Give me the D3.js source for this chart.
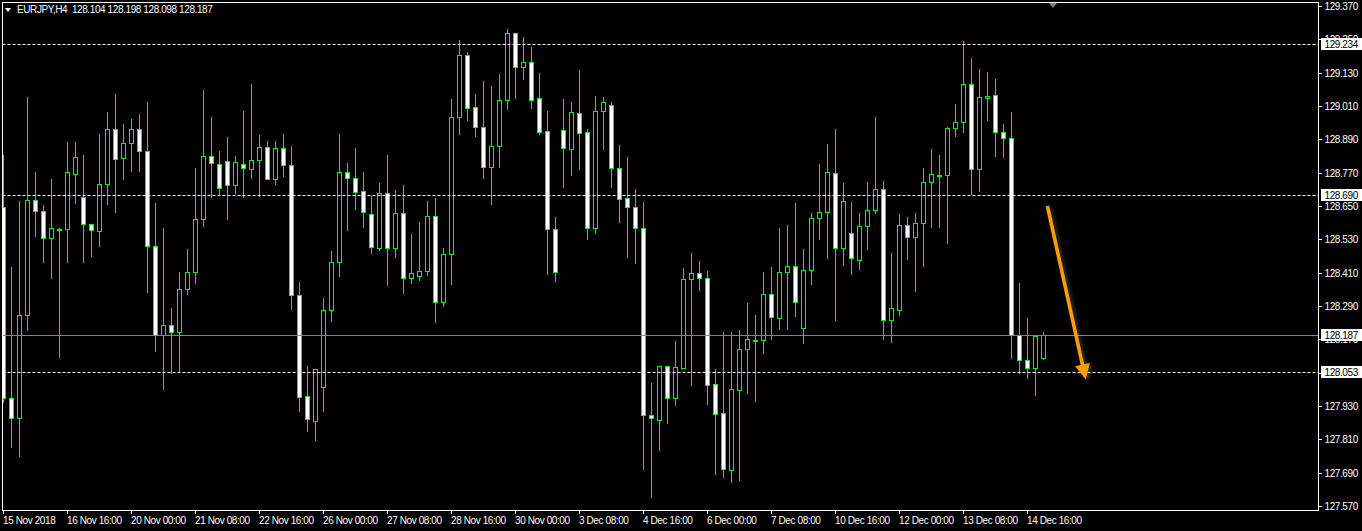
<!DOCTYPE html>
<html><head><meta charset="utf-8">
<script src="https://cdn.jsdelivr.net/npm/d3@7/dist/d3.min.js"></script>
<style>
html,body{margin:0;padding:0;background:#000;}
svg{display:block;}
text{font-family:"Liberation Sans",Arial,sans-serif;font-size:10px;letter-spacing:-0.4px;fill:#fff;}
</style></head>
<body>
<svg id="c" width="1362" height="531"></svg>
<script>
// ---- data (EURJPY, H4) ----
const symbolTitle = "EURJPY,H4";
const open = [
128.648,127.958,127.888,128.256,128.670,128.633,128.536,128.568,128.566,128.766,
128.681,128.584,128.559,128.728,128.926,128.822,128.876,128.926,128.847,128.505,
128.186,128.220,128.195,128.350,128.411,128.602,128.829,128.800,128.811,128.724,
128.803,128.782,128.814,128.861,128.746,128.858,128.796,128.328,127.965,127.877,
127.997,128.274,128.447,128.771,128.750,128.703,128.620,128.500,128.696,128.500,
128.624,128.390,128.399,128.415,128.613,128.303,128.476,128.969,129.192,129.005,
128.933,128.792,128.865,129.030,129.272,129.152,129.167,129.038,128.919,128.566,
128.922,128.856,128.984,128.916,128.570,128.991,129.012,128.786,128.678,128.645,
128.570,127.896,127.878,128.073,127.958,128.068,128.386,128.408,128.390,128.008,
127.904,127.701,127.989,128.134,128.169,128.166,128.332,128.246,128.411,128.433,
128.210,128.418,128.606,128.627,128.768,128.498,128.552,128.457,128.577,128.634,
128.710,128.241,128.277,128.580,128.537,128.588,128.735,128.763,128.763,128.930,
128.951,129.088,128.782,129.038,129.048,128.915,128.894,128.184,128.094,128.068,
128.104];
const high = [
128.834,128.429,128.668,129.042,128.772,128.654,128.747,128.570,128.880,128.880,
128.834,128.584,128.909,128.988,129.053,128.945,128.963,128.981,129.024,128.661,
128.571,128.283,128.412,128.495,128.786,129.068,128.970,128.848,128.898,128.830,
128.992,129.089,128.906,128.884,128.884,128.909,128.866,128.376,128.075,128.063,
128.319,128.488,128.909,128.805,128.859,128.772,128.687,128.733,128.834,128.708,
128.726,128.549,128.592,128.668,128.679,128.499,129.035,129.248,129.204,129.053,
129.100,129.082,129.125,129.287,129.272,129.258,129.222,129.129,128.992,128.610,
129.035,129.024,129.140,128.927,129.046,129.042,129.023,128.870,128.826,128.711,
128.664,128.013,128.073,128.073,128.164,128.427,128.481,128.452,128.415,128.063,
128.195,128.195,128.204,128.301,128.258,128.412,128.430,128.571,128.582,128.661,
128.495,128.625,128.801,128.873,128.927,128.733,128.664,128.625,128.736,128.970,
128.740,128.481,128.621,128.610,128.625,128.786,128.855,128.834,128.934,129.017,
129.244,129.183,129.143,129.132,129.107,128.945,128.988,128.373,128.247,128.184,
128.198];
const low = [
127.946,127.784,127.751,128.205,128.543,128.450,128.392,128.108,128.450,128.662,
128.450,128.471,128.507,128.658,128.630,128.748,128.777,128.777,128.342,128.129,
127.992,128.048,128.054,128.332,128.374,128.579,128.684,128.693,128.604,128.698,
128.684,128.752,128.687,128.746,128.730,128.759,128.280,127.913,127.841,127.809,
127.913,128.237,128.399,128.565,128.640,128.576,128.481,128.493,128.367,128.468,
128.338,128.374,128.384,128.403,128.234,128.291,128.369,128.910,128.960,128.903,
128.752,128.658,128.792,129.000,129.040,129.108,129.004,128.910,128.404,128.380,
128.718,128.762,128.783,128.531,128.553,128.855,128.718,128.594,128.468,128.446,
127.704,127.604,127.773,127.870,127.935,128.068,128.007,128.349,127.937,127.686,
127.676,127.658,127.665,127.978,127.949,128.122,128.170,128.208,128.208,128.255,
128.158,128.370,128.532,128.464,128.241,128.439,128.406,128.424,128.496,128.626,
128.172,128.162,128.259,128.460,128.345,128.435,128.576,128.576,128.518,128.903,
128.916,128.693,128.705,128.960,128.831,128.828,128.104,128.050,128.032,127.971,
128.098];
const close = [
127.958,127.888,128.256,128.670,128.633,128.534,128.570,128.567,128.771,128.825,
128.584,128.562,128.728,128.926,128.818,128.876,128.926,128.847,128.505,128.186,
128.220,128.195,128.350,128.411,128.602,128.829,128.804,128.714,128.724,128.807,
128.786,128.814,128.861,128.746,128.858,128.796,128.328,127.961,127.882,128.063,
128.274,128.447,128.771,128.750,128.702,128.630,128.501,128.696,128.498,128.624,
128.390,128.408,128.415,128.613,128.303,128.476,128.969,129.192,129.002,128.933,
128.789,128.865,129.030,129.272,129.149,129.167,129.033,128.918,128.566,128.414,
128.860,128.987,128.912,128.570,128.991,129.023,128.786,128.674,128.645,128.570,
127.896,127.886,128.073,127.958,128.069,128.386,128.408,128.390,128.007,127.902,
127.704,127.990,128.134,128.170,128.169,128.332,128.249,128.411,128.433,128.303,
128.418,128.606,128.627,128.771,128.498,128.667,128.462,128.577,128.634,128.710,
128.241,128.282,128.580,128.537,128.588,128.735,128.764,128.762,128.930,128.951,
129.088,128.782,129.041,129.045,128.915,128.894,128.186,128.094,128.066,128.181,
128.187];

const timeLabels = ["15 Nov 2018","16 Nov 16:00","20 Nov 00:00","21 Nov 08:00","22 Nov 16:00",
  "26 Nov 00:00","27 Nov 08:00","28 Nov 16:00","30 Nov 00:00","3 Dec 08:00","4 Dec 16:00",
  "6 Dec 00:00","7 Dec 08:00","10 Dec 16:00","12 Dec 00:00","13 Dec 08:00","14 Dec 16:00"];
const timeLabelBars = [0,8,16,24,32,40,48,56,64,72,80,88,96,104,112,120,128];
const priceTicks = [129.370,129.250,129.130,129.010,128.890,128.770,128.650,128.530,128.410,
  128.290,128.170,128.050,127.930,127.810,127.690,127.570];
const priceTickLabels = ["129.370","129.250","129.130","129.010","128.890","128.770","128.650",
  "128.530","128.410","128.290","128.170","128.050","127.930","127.810","127.690","127.570"];
const hLevels = [129.234, 128.690, 128.053];
const bidPrice = 128.187;
const arrowFrom = {bar:130.55, price:128.650};
const arrowTo = {bar:135.34, price:128.026};
const shiftMarkerBar = 131.25;

// ---- layout ----
const W = 1362, H = 531;
const L = 2.5, T = 2.5, R = 1318.5, B = 510.5;
const svg = d3.select("#c");

const x = d3.scaleLinear().domain([0,1]).range([3,11]);
const y = d3.scaleLinear().domain([127.570,129.370]).range([506,6]);

svg.append("rect").attr("width",W).attr("height",H).attr("fill","#000");

const defs = svg.append("defs");
defs.append("clipPath").attr("id","clip").append("rect")
  .attr("x",L+0.5).attr("y",T+0.5).attr("width",R-L-1).attr("height",B-T-1);
const f = defs.append("filter").attr("id","shadow").attr("x","-50%").attr("y","-50%").attr("width","200%").attr("height","200%");
f.append("feDropShadow").attr("dx",2).attr("dy",2).attr("stdDeviation",2).attr("flood-color","#888").attr("flood-opacity",0.5);

const plot = svg.append("g").attr("clip-path","url(#clip)");

const bars = d3.range(open.length).map(i => ({i, o:open[i], h:high[i], l:low[i], c:close[i]}));

// wicks
plot.selectAll("line.wick").data(bars).join("line")
  .attr("class","wick")
  .attr("x1",d=>x(d.i)+0.5).attr("x2",d=>x(d.i)+0.5)
  .attr("y1",d=>Math.round(y(d.h))).attr("y2",d=>Math.round(y(d.l))+1)
  .attr("stroke","#00ff00").attr("stroke-width",1);

// bodies
plot.selectAll("rect.body").data(bars).join("rect")
  .attr("class","body")
  .attr("x",d=>x(d.i)-1.5).attr("width",4)
  .attr("y",d=>Math.round(y(Math.max(d.o,d.c)))+0.5)
  .attr("height",d=>Math.max(1, Math.round(y(Math.min(d.o,d.c))) - Math.round(y(Math.max(d.o,d.c)))))
  .attr("fill",d=> d.c < d.o ? "#ffffff" : (Math.abs(d.c-d.o) < 0.004 ? "#00ff00" : "#000000"))
  .attr("stroke","#00ff00").attr("stroke-width",1);

// horizontal levels
plot.selectAll("line.lvl").data(hLevels).join("line")
  .attr("class","lvl")
  .attr("x1",L).attr("x2",R)
  .attr("y1",d=>Math.round(y(d))+0.5).attr("y2",d=>Math.round(y(d))+0.5)
  .attr("stroke","#ffffff").attr("stroke-width",1).attr("stroke-dasharray","3,2");

// bid line
plot.append("line")
  .attr("x1",L).attr("x2",R)
  .attr("y1",Math.round(y(bidPrice))+0.5).attr("y2",Math.round(y(bidPrice))+0.5)
  .attr("stroke","#778899").attr("stroke-width",1);

// arrow annotation
const p0 = [x(arrowFrom.bar), y(arrowFrom.price)];
const p1 = [x(arrowTo.bar), y(arrowTo.price)];
const dx = p1[0]-p0[0], dy = p1[1]-p0[1], len = Math.hypot(dx,dy);
const ux = dx/len, uy = dy/len, nx = -uy, ny = ux;
const headLen = 15, headW = 7.5;
const bx = p1[0]-ux*headLen, by = p1[1]-uy*headLen;
const ag = svg.append("g").attr("filter","url(#shadow)");
ag.append("line").attr("x1",p0[0]).attr("y1",p0[1]).attr("x2",bx+ux*2).attr("y2",by+uy*2)
  .attr("stroke","#ff9c00").attr("stroke-width",3.5);
ag.append("polygon")
  .attr("points",[[p1[0],p1[1]],[bx+nx*headW,by+ny*headW],[bx-nx*headW,by-ny*headW]].map(p=>p.join(",")).join(" "))
  .attr("fill","#ff9c00");

// frame
svg.append("rect").attr("x",L).attr("y",T).attr("width",R-L).attr("height",B-T)
  .attr("fill","none").attr("stroke","#ffffff").attr("stroke-width",1);

// chart shift marker
const sx = x(shiftMarkerBar);
svg.append("polygon").attr("points",`${sx-4},3 ${sx+4},3 ${sx},8`).attr("fill","#808080");

// right price axis
const ra = svg.append("g");
ra.selectAll("line.pt").data(priceTicks).join("line")
  .attr("x1",R).attr("x2",R+3.5)
  .attr("y1",d=>Math.round(y(d))+0.5).attr("y2",d=>Math.round(y(d))+0.5)
  .attr("stroke","#fff");
ra.selectAll("text.pt").data(priceTicks).join("text")
  .attr("x",R+6).attr("y",d=>Math.round(y(d))+4)
  .text((d,i)=>priceTickLabels[i]);

// highlighted level labels
const hl = hLevels.concat([bidPrice]);
ra.selectAll("rect.hl").data(hl).join("rect")
  .attr("x",R+2.5).attr("width",W-R-2.5)
  .attr("y",d=>Math.round(y(d))-6).attr("height",12)
  .attr("fill","#fff");
ra.selectAll("text.hl").data(hl).join("text")
  .attr("x",R+6).attr("y",d=>Math.round(y(d))+4)
  .style("fill","#000")
  .text(d=>d.toFixed(3));

// bottom time axis
const ba = svg.append("g");
ba.selectAll("line.tt").data(timeLabelBars).join("line")
  .attr("x1",d=>x(d)+0.5).attr("x2",d=>x(d)+0.5)
  .attr("y1",B).attr("y2",B+3.5).attr("stroke","#fff");
ba.selectAll("text.tt").data(timeLabelBars).join("text")
  .attr("x",d=>x(d)).attr("y",524)
  .text((d,i)=>timeLabels[i]);

// header
svg.append("polygon").attr("points","5,8 11,8 8,12").attr("fill","#fff");
svg.append("text").attr("x",17).attr("y",13).style("white-space","pre")
  .text(symbolTitle + "  " + [open[open.length-1],high[high.length-1],low[low.length-1],close[close.length-1]].map(v=>v.toFixed(3)).join(" "));
</script>
</body></html>
